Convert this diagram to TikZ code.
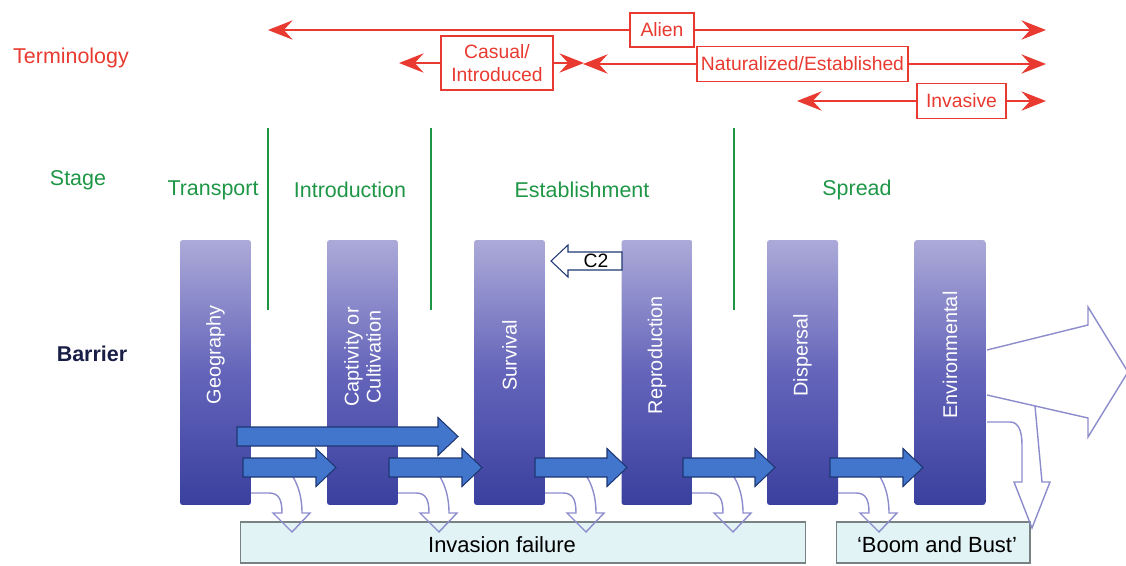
\documentclass[tikz,border=0pt]{standalone}
\usepackage{fontspec}
\setmainfont{Liberation Sans}
\usetikzlibrary{arrows.meta}
\definecolor{termred}{RGB}{232,58,48}
\definecolor{stagegreen}{RGB}{30,150,70}
\definecolor{barriernavy}{RGB}{25,30,70}
\definecolor{bartop}{RGB}{172,170,216}
\definecolor{barmid}{RGB}{100,100,186}
\definecolor{barbot}{RGB}{58,64,158}
\definecolor{flowblue}{RGB}{66,118,204}
\definecolor{flowedge}{RGB}{30,55,115}
\definecolor{failline}{RGB}{140,140,205}
\definecolor{failfill}{RGB}{226,243,245}
\definecolor{failedge}{RGB}{120,130,130}
\def\fatarrow(#1,#2,#3){\draw[flow] (#1,#3-9.5) -- (#2-20,#3-9.5) -- (#2-20,#3-19) -- (#2,#3) -- (#2-20,#3+19) -- (#2-20,#3+9.5) -- (#1,#3+9.5) -- cycle;}
\def\failarrow(#1){\draw[fail] (#1,493) -- (#1+18,493) .. controls (#1+28,493) and (#1+31,500) .. (#1+31,513) -- (#1+22,513) -- (#1+41,532) -- (#1+59,513) -- (#1+51,513) .. controls (#1+51,497) and (#1+47,485) .. (#1+42,477);}

\begin{document}
\begin{tikzpicture}[x=0.02cm, y=-0.02cm,
	termlabel/.style={text=termred, font=\fontsize{12.2}{14}\selectfont},
	termbox/.style={draw=termred, line width=0.8pt, text=termred, inner sep=0pt, font=\fontsize{11}{13}\selectfont},
	termarrow/.style={termred, line width=1.1pt, -{Stealth[length=14pt,width=11pt,inset=5pt]}},
	stagelabel/.style={text=stagegreen, font=\fontsize{12.2}{14}\selectfont},
	stageline/.style={stagegreen, line width=1.1pt},
	bar/.style={rounded corners=1.5pt, top color=bartop, bottom color=barbot, middle color=barmid, minimum width=1.42cm, minimum height=5.3cm, inner sep=0pt},
	barlabel/.style={rotate=90, text=white, align=center, font=\fontsize{11.3}{12.5}\selectfont},
	flow/.style={fill=flowblue, draw=flowedge, line width=0.6pt, line join=miter},
	fail/.style={draw=failline, line width=0.8pt},
	failbox/.style={fill=failfill, draw=failedge, line width=0.6pt, minimum height=0.82cm, inner sep=0pt},
	failtext/.style={font=\fontsize{12.5}{14}\selectfont}]
	%%%%% START %%%%%
	\useasboundingbox (0,0) rectangle (1126,565);
	
	\node[termlabel] (terminology) at (71,58) {Terminology};
	\node[stagelabel] (stage) at (78,180) {Stage};
	\node[text=barriernavy, font=\bfseries\fontsize{12.2}{14}\selectfont] (barrier) at (92,354) {Barrier};
	
	% terminology
	\node[termbox, minimum width=1.28cm, minimum height=0.68cm] (alien) at (662,30) {Alien};
	\coordinate (alienL) at (268,30);
	\coordinate (alienR) at (1046,30);
	\draw[termarrow] (alien.west) -- (alienL);
	\draw[termarrow] (alien.east) -- (alienR);
	
	\node[termbox, minimum width=2.24cm, minimum height=1.08cm, align=center] (casual) at (497,63) {Casual/\\Introduced};
	\coordinate (casualL) at (399,63);
	\coordinate (casualR) at (584,63);
	\draw[termarrow] (casual.west) -- (casualL);
	\draw[termarrow] (casual.east) -- (casualR);
	
	\node[termbox, minimum width=4.22cm, minimum height=0.7cm] (natural) at (802.5,64) {Naturalized/Established};
	\coordinate (naturalL) at (583,64);
	\coordinate (naturalR) at (1046,64);
	\draw[termarrow] (natural.west) -- (naturalL);
	\draw[termarrow] (natural.east) -- (naturalR);
	
	\node[termbox, minimum width=1.78cm, minimum height=0.7cm] (invasive) at (961.5,101) {Invasive};
	\coordinate (invasiveL) at (797,101);
	\coordinate (invasiveR) at (1046,101);
	\draw[termarrow] (invasive.west) -- (invasiveL);
	\draw[termarrow] (invasive.east) -- (invasiveR);
	
	% stages
	\node[stagelabel] (transport) at (213,190) {Transport};
	\node[stagelabel] (introduction) at (350,190) {Introduction};
	\node[stagelabel] (establishment) at (582,190) {Establishment};
	\node[stagelabel] (spread) at (857,190) {Spread};
	\draw[stageline] (268,128) -- (268,310);
	\draw[stageline] (431,128) -- (431,310);
	\draw[stageline] (734,128) -- (734,310);
	
	% barriers
	\node[bar] (geo) at (215.5,372.5) {};
	\node[bar] (capt) at (362.5,372.5) {};
	\node[bar] (surv) at (509.5,372.5) {};
	\node[bar] (repro) at (657,372.5) {};
	\node[bar] (disp) at (802.5,372.5) {};
	\node[bar] (env) at (950,372.5) {};
	\node[barlabel] (geotext) at (215.5,355) {Geography};
	\node[barlabel] (capttext) at (362.5,357) {Captivity or\\Cultivation};
	\node[barlabel] (survtext) at (509.5,355) {Survival};
	\node[barlabel] (reprotext) at (657,355) {Reproduction};
	\node[barlabel] (disptext) at (802.5,355) {Dispersal};
	\node[barlabel] (envtext) at (950,355) {Environmental};
	
	\draw[fill=white, draw=flowedge, line width=0.6pt] (622,252) -- (568,252) -- (568,245) -- (551,261) -- (568,277) -- (568,270) -- (622,270) -- cycle;
	\node[font=\fontsize{11}{13}\selectfont] (c2) at (596,261) {C2};
	
	% outcomes
	\node[failbox, minimum width=11.32cm] (failure) at (523,542.5) {};
	\node[failtext] (failuretext) at (502,545) {Invasion failure};
	\node[failbox, minimum width=3.88cm] (boom) at (933,542.5) {};
	\node[failtext] (boomtext) at (937,545) {‘Boom and Bust’};
	
	\failarrow(251)
	\failarrow(398)
	\failarrow(545)
	\failarrow(692)
	\failarrow(838)
	\draw[fail] (987,422) -- (1010,422) .. controls (1018,422) and (1022,430) .. (1022,445) -- (1022,482) -- (1014,482) -- (1032,528) -- (1050,482) -- (1042,482) -- (1035,406);
	\draw[fail] (987,350) -- (1088,325) -- (1088,307) -- (1128,372) -- (1088,437) -- (1088,418) -- (987,395);
	
	\fatarrow(237,458,436.5)
	\fatarrow(243,336,467.5)
	\fatarrow(389,482,467.5)
	\fatarrow(535,627,467.5)
	\fatarrow(683,775,467.5)
	\fatarrow(830,923,467.5)
	%%%%% END %%%%%
\end{tikzpicture}
\end{document}
